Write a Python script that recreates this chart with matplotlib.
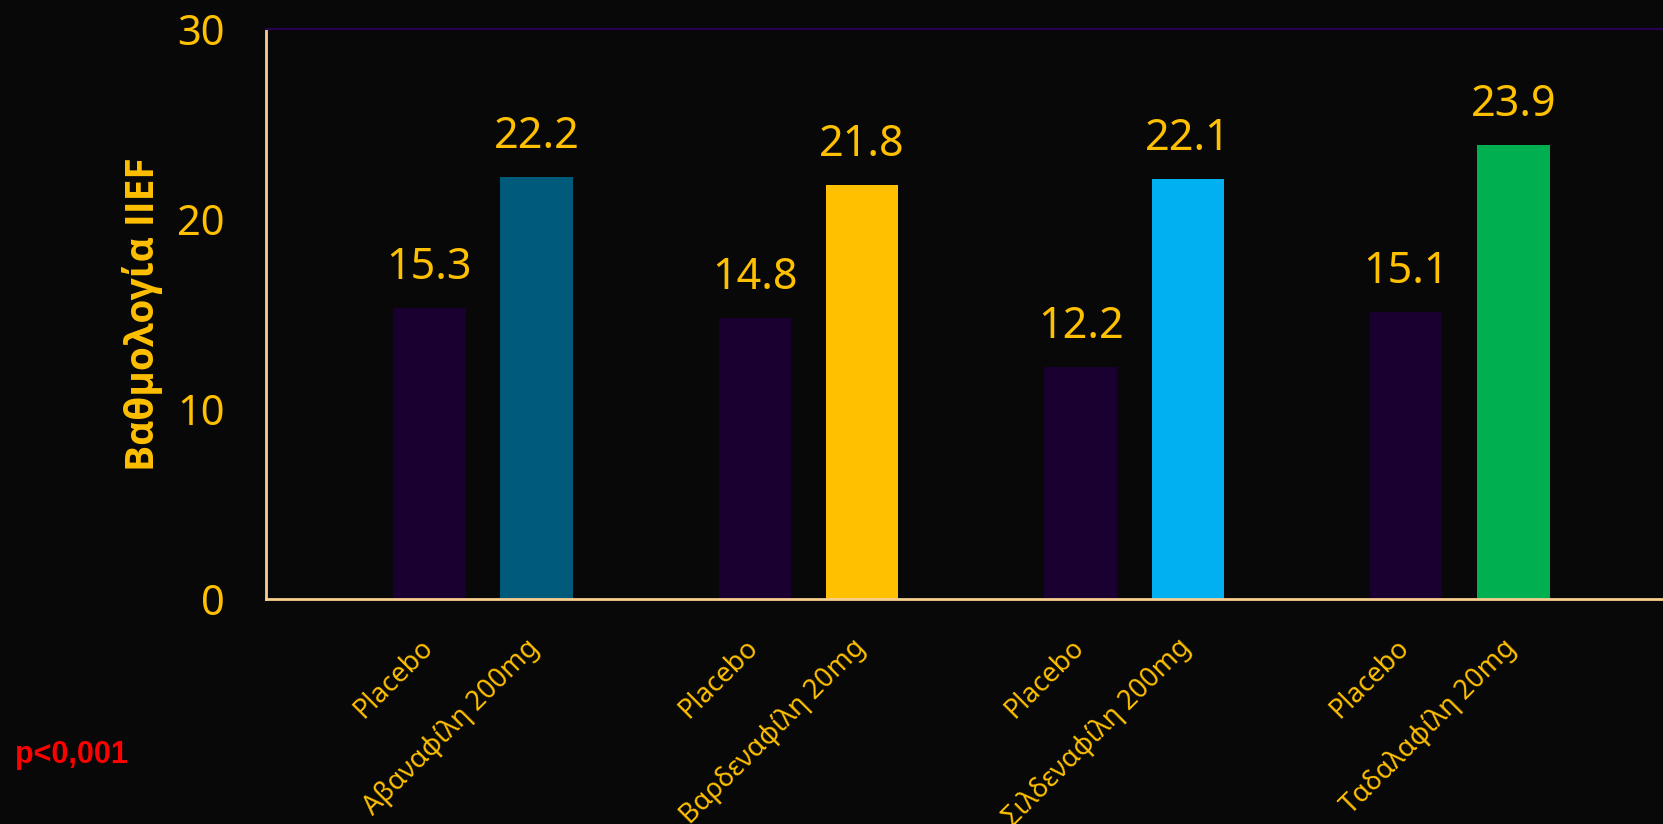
import numpy as np
import matplotlib
matplotlib.use('Agg')
import matplotlib.pyplot as plt
from matplotlib.transforms import ScaledTranslation

# IIEF scores, placebo vs drug
drugs = ['Αβαναφίλη 200mg', 'Βαρδεναφίλη 20mg', 'Σιλδεναφίλη 200mg', 'Ταδαλαφίλη 20mg']
placebo_scores = [15.3, 14.8, 12.2, 15.1]
drug_scores = [22.2, 21.8, 22.1, 23.9]
drug_colors = ['#005a7a', '#ffc000', '#00b0f0', '#00b050']
placebo_color = '#1a0030'

gold = '#ffc000'
bg = '#080808'

plt.rcParams['font.family'] = ['Noto Sans', 'DejaVu Sans']

fig = plt.figure(figsize=(16.63, 8.24), dpi=100, facecolor=bg)
ax = fig.add_axes([0.16, 0.273, 0.84, 0.692], facecolor=bg)

groups = np.arange(len(drugs))
offset = 0.1645
width = 0.222

bars_p = ax.bar(groups - offset, placebo_scores, width=width, color=placebo_color)
bars_d = ax.bar(groups + offset, drug_scores, width=width, color=drug_colors)

for bar, val in list(zip(bars_p, placebo_scores)) + list(zip(bars_d, drug_scores)):
    ax.annotate(f'{val:.1f}', (bar.get_x() + bar.get_width() / 2, val),
                xytext=(0, 40), textcoords='offset pixels',
                ha='center', va='center', fontsize=31, color=gold)

ax.set_xlim(-0.666, 3.624)
ax.set_ylim(0, 30)
ax.set_yticks([0, 10, 20, 30])
ax.tick_params(axis='y', length=0, pad=30, labelsize=30, labelcolor=gold)

# x labels: one per bar, rotated
positions = np.ravel(np.column_stack([groups - offset, groups + offset]))
labels = []
for d in drugs:
    labels += ['Placebo', d]
ax.set_xticks(positions)
ax.set_xticklabels(labels, rotation=45, ha='right', va='top', fontsize=19.5, color=gold)
ax.tick_params(axis='x', length=0, pad=25)
shift = ScaledTranslation(9 / 100, 0, fig.dpi_scale_trans)
for lbl in ax.get_xticklabels():
    lbl.set_transform(lbl.get_transform() + shift)

ax.set_ylabel('Βαθμολογία IIEF', fontsize=28, fontweight='bold', color=gold,
              family=['Open Sans', 'DejaVu Sans'], labelpad=10)

for side in ['left', 'bottom']:
    ax.spines[side].set_color('#f8cf8e')
    ax.spines[side].set_linewidth(2)
ax.spines['top'].set_color('#2a0050')
ax.spines['top'].set_linewidth(1.5)
ax.spines['right'].set_visible(False)

fig.text(0.009, 0.084, 'p<0,001', color='#ff0000', fontsize=22, fontweight='bold',
         family='Liberation Sans', va='center')

fig.savefig('out.png', dpi=100, facecolor=bg)
